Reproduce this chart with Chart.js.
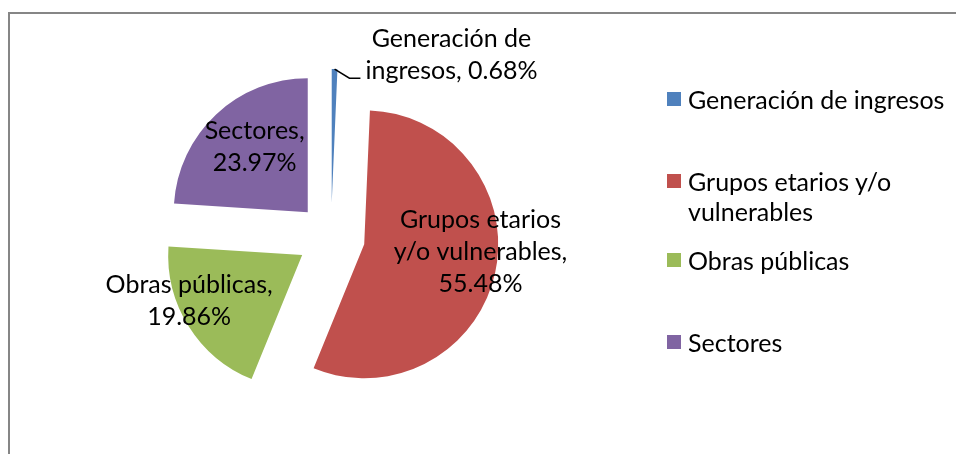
<!DOCTYPE html>
<html>
<head>
<meta charset="utf-8">
<script src="https://cdn.jsdelivr.net/npm/chart.js@4.4.1/dist/chart.umd.min.js"></script>
<style>
  body { margin: 0; background: #fff; }
  #wrap { position: relative; width: 956px; height: 454px; overflow: hidden; font-family: Lato, sans-serif; }
  #frame { position: absolute; left: 8px; top: 12px; width: 1100px; height: 600px;
           border-left: 2px solid #868686; border-top: 2px solid #868686; }
  #chart { position: absolute; left: 0; top: 0; width: 956px; height: 454px; }
  .item { position: absolute; left: 667px; width: 285px; font-size: 25px; line-height: 30px; color: #000; }
  .item .box { position: absolute; left: 0; top: 8px; width: 14px; height: 14px; }
  .item .txt { position: absolute; left: 21px; width: 266px; }
</style>
</head>
<body>
<div id="wrap">
  <div id="frame"></div>
  <div id="chart"><canvas id="pie"></canvas></div>
  <div id="legend"></div>
</div>
<script>
// Data
const categories = ['Generación de ingresos', 'Grupos etarios y/o vulnerables', 'Obras públicas', 'Sectores'];
const percentages = [0.68, 55.48, 19.86, 23.97];
const colors = ['#4F81BD', '#C0504D', '#9BBB59', '#8064A2'];

// Layout (style only)
const EXPLODE = 34;
const legendTops = [84, 166, 245, 327];
// label placement around each exploded slice: angle clockwise from 12 o'clock, distance in radii
const labelAngles = [39, 94, 248, 321];
const labelDists = [1.42, 0.87, 0.91, 0.63];
const LABEL_FONT = '25px Lato, sans-serif';
const LABEL_LINE = 32;
const LABEL_WRAP = 186;

// Legend
const legend = document.getElementById('legend');
legend.innerHTML = categories.map((c, i) => `
  <div class="item" style="top:${legendTops[i]}px">
    <span class="box" style="background:${colors[i]}"></span>
    <span class="txt">${c}</span>
  </div>`).join('');

function wrapText(ctx, text, maxWidth) {
  const words = text.split(' ');
  const lines = [];
  let line = '';
  words.forEach(w => {
    const test = line ? line + ' ' + w : w;
    if (line && ctx.measureText(test).width > maxWidth) {
      lines.push(line);
      line = w;
    } else {
      line = test;
    }
  });
  if (line) lines.push(line);
  return lines;
}

// Draw slices pulled out from the centre
const explodePlugin = {
  id: 'explode',
  beforeDatasetDraw(chart, args) {
    const ctx = chart.ctx;
    args.meta.data.forEach(arc => {
      const mid = (arc.startAngle + arc.endAngle) / 2;
      ctx.save();
      ctx.translate(Math.cos(mid) * EXPLODE, Math.sin(mid) * EXPLODE);
      arc.draw(ctx);
      ctx.restore();
    });
    return false;
  }
};

// Data labels "Category, xx.xx%"
const labelPlugin = {
  id: 'pieLabels',
  afterDatasetsDraw(chart) {
    const ctx = chart.ctx;
    const meta = chart.getDatasetMeta(0);
    ctx.save();
    ctx.font = LABEL_FONT;
    ctx.fillStyle = '#000';
    ctx.textAlign = 'center';
    ctx.textBaseline = 'middle';
    meta.data.forEach((arc, i) => {
      const mid = (arc.startAngle + arc.endAngle) / 2;
      const cx = arc.x + Math.cos(mid) * EXPLODE;
      const cy = arc.y + Math.sin(mid) * EXPLODE;
      const r = arc.outerRadius;
      const a = (labelAngles[i] - 90) * Math.PI / 180;
      const lx = cx + Math.cos(a) * r * labelDists[i];
      const ly = cy + Math.sin(a) * r * labelDists[i];
      const text = categories[i] + ', ' + percentages[i].toFixed(2) + '%';
      const lines = wrapText(ctx, text, LABEL_WRAP);
      const top = ly - (lines.length - 1) * LABEL_LINE / 2;
      lines.forEach((ln, k) => ctx.fillText(ln, lx, top + k * LABEL_LINE));

      // leader line for the label that sits outside its slice
      if (labelDists[i] > 1) {
        const tipX = cx + Math.cos(mid) * r;
        const tipY = cy + Math.sin(mid) * r;
        const lastW = ctx.measureText(lines[lines.length - 1]).width;
        const endX = lx - lastW / 2 - 5;
        const endY = top + (lines.length - 1) * LABEL_LINE + 7;
        ctx.beginPath();
        ctx.moveTo(tipX, tipY);
        ctx.lineTo(endX - 11, endY);
        ctx.lineTo(endX, endY);
        ctx.strokeStyle = '#000';
        ctx.lineWidth = 1.5;
        ctx.stroke();
      }
    });
    ctx.restore();
  }
};

new Chart(document.getElementById('pie'), {
  type: 'pie',
  data: {
    labels: categories,
    datasets: [{
      data: percentages,
      backgroundColor: colors,
      borderWidth: 0
    }]
  },
  options: {
    responsive: true,
    maintainAspectRatio: false,
    animation: false,
    radius: 134,
    layout: { padding: { left: 60, right: 354, top: 30, bottom: 10 } },
    plugins: {
      legend: { display: false },
      tooltip: { enabled: false }
    }
  },
  plugins: [explodePlugin, labelPlugin]
});
</script>
</body>
</html>
